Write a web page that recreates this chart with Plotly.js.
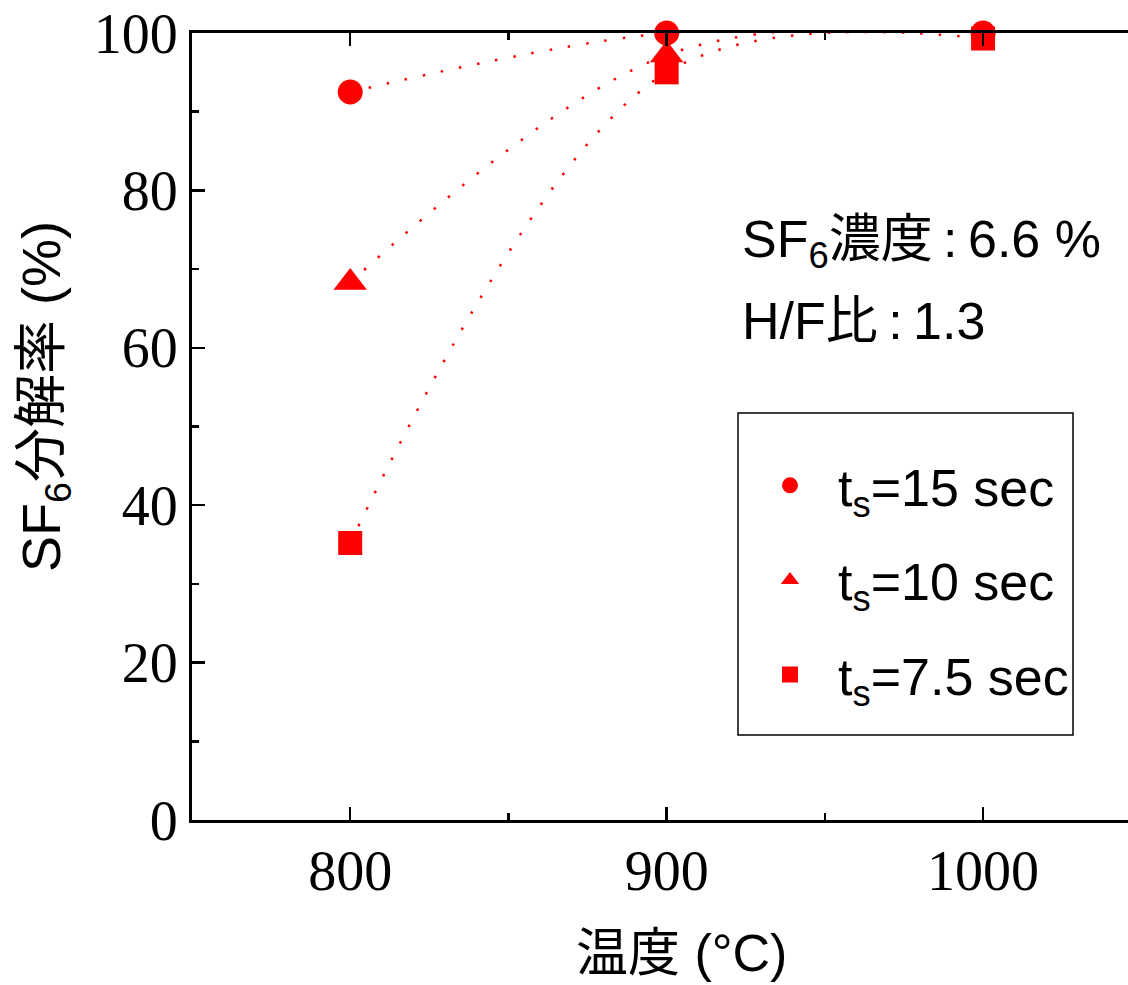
<!DOCTYPE html>
<html>
<head>
<meta charset="utf-8">
<script src="https://cdn.plot.ly/plotly-3.0.1.min.js"></script>
<style>
html,body{margin:0;padding:0;background:#fff;overflow:hidden;}
#chart{width:1128px;height:985px;}
</style>
</head>
<body>
<div id="chart"></div>
<script>
const temps = [800, 900, 1000];
const ts15 = [92.5, 100, 100];
const ts10 = [68.3, 97.2, 100.5];
const ts75 = [35.2, 95.0, 99.3];
const names = ['t<sub>s</sub>=15 sec', 't<sub>s</sub>=10 sec', 't<sub>s</sub>=7.5 sec'];
const symbols = ['circle', 'triangle-up', 'square'];
const xTicks = [800, 900, 1000];
const yTicks = [0, 20, 40, 60, 80, 100];

const sans = 'Liberation Sans, Arial, Noto Sans CJK JP, sans-serif';
const serif = 'Liberation Serif, Times New Roman, serif';
const red = '#ff0000';
const series = [ts15, ts10, ts75];
const sizes = [25, 29, 24];

const data = [];
series.forEach((y, i) => {
  data.push({
    x: temps, y: y, type: 'scatter', mode: 'lines', showlegend: false, hoverinfo: 'skip',
    cliponaxis: false,
    line: {color: red, width: 2.5, dash: '2.5px,16px', shape: 'spline', smoothing: 1}
  });
});
series.forEach((y, i) => {
  data.push({
    x: temps, y: y, name: names[i], type: 'scatter', mode: 'markers',
    legendgroup: 'g' + i, cliponaxis: false,
    marker: {color: red, symbol: symbols[i], size: sizes[i]}
  });
});

const P = {l: 192, t: 33, w: 936, h: 787};
const px = v => (v - P.l) / P.w;
const py = v => (P.t + P.h - v) / P.h;

const layout = {
  width: 1128, height: 985,
  margin: {l: 192, r: 0, t: 33, b: 165},
  paper_bgcolor: '#fff', plot_bgcolor: '#fff',
  showlegend: true,
  legend: {
    x: px(738), y: py(445), xanchor: 'left', yanchor: 'top',
    borderwidth: 0, bgcolor: 'rgba(0,0,0,0)',
    font: {family: sans, size: 52, color: '#000'},
    tracegroupgap: 24, itemsizing: 'trace', itemwidth: 86, indentation: 4
  },
  shapes: [
    {type: 'rect', xref: 'paper', yref: 'paper', x0: px(738), x1: px(1073), y0: py(413), y1: py(735),
     line: {color: '#000', width: 1.5}, fillcolor: 'rgba(0,0,0,0)', layer: 'below'}
  ],
  xaxis: {
    range: [750, 1045.8], tickvals: xTicks, ticktext: xTicks.map(String),
    ticks: 'inside', ticklen: 13, tickwidth: 2.5, tickcolor: '#000',
    showline: true, linecolor: '#000', linewidth: 3, mirror: 'ticks',
    showgrid: false, zeroline: false,
    minor: {dtick: 50, tick0: 750, ticks: 'inside', ticklen: 7, tickwidth: 2.5, tickcolor: '#000', showgrid: false},
    tickfont: {family: serif, size: 56, color: '#000'}
  },
  yaxis: {
    range: [0, 100], tickvals: yTicks, ticktext: yTicks.map(String),
    ticks: 'inside', ticklen: 13, tickwidth: 2.5, tickcolor: '#000',
    showline: true, linecolor: '#000', linewidth: 3, mirror: false,
    showgrid: false, zeroline: false,
    minor: {dtick: 10, ticks: 'inside', ticklen: 7, tickwidth: 2.5, tickcolor: '#000', showgrid: false},
    tickfont: {family: serif, size: 56, color: '#000'}
  },
  annotations: [
    {xref: 'paper', yref: 'paper', x: px(740), y: py(243), xanchor: 'left', yanchor: 'middle',
     text: 'SF<sub>6</sub>濃度\u2009:\u20096.6 %', showarrow: false, font: {family: sans, size: 52, color: '#000'}},
    {xref: 'paper', yref: 'paper', x: px(740), y: py(321), xanchor: 'left', yanchor: 'middle',
     text: 'H/F比\u2009:\u20091.3', showarrow: false, font: {family: sans, size: 52, color: '#000'}},
    {xref: 'paper', yref: 'paper', x: px(681), y: py(953), xanchor: 'center', yanchor: 'middle',
     text: '温度 (°C)', showarrow: false, font: {family: sans, size: 52, color: '#000'}},
    {xref: 'paper', yref: 'paper', x: px(45), y: py(397), xanchor: 'center', yanchor: 'middle', textangle: -90,
     text: 'SF<sub>6</sub>分解率 (%)', showarrow: false, font: {family: sans, size: 54, color: '#000'}}
  ]
};

Plotly.newPlot('chart', data, layout, {displayModeBar: false, staticPlot: true});
</script>
</body>
</html>
